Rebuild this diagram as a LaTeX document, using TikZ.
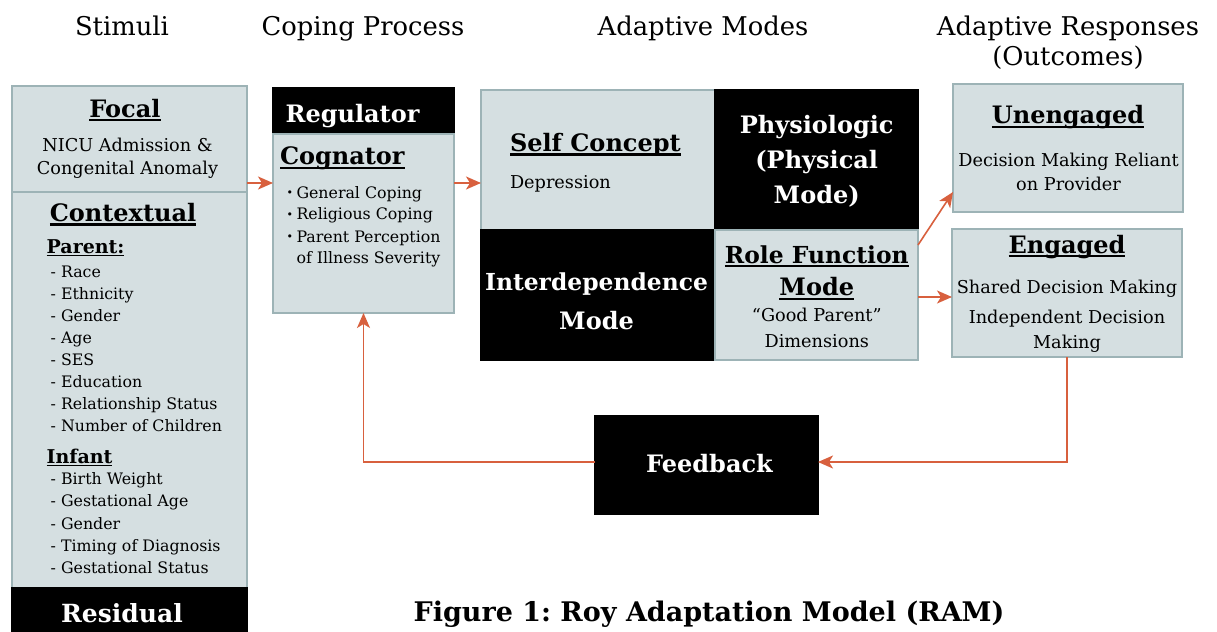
\documentclass[tikz,border=0pt]{standalone}
\usepackage{fontspec}
\setmainfont{DejaVu Serif}
\usetikzlibrary{arrows.meta}
\definecolor{boxfill}{HTML}{D5DFE1}
\definecolor{boxline}{HTML}{9DB3B6}
\definecolor{arrowc}{HTML}{D8603E}
\newcommand\ulx[1]{\setbox0=\hbox{#1}\rlap{\rule[-0.16em]{\wd0}{0.09em}}\box0}
\newcommand\fsz[1]{\fontsize{#1bp}{#1bp}\selectfont}
\frenchspacing
\begin{document}
\begin{tikzpicture}[x=1bp,y=-1bp,
 lbox/.style={draw=boxline,fill=boxfill,line width=1.2bp,inner sep=0pt,outer sep=0pt,anchor=north west},
 bbox/.style={draw=black,fill=black,line width=1.2bp,inner sep=0pt,outer sep=0pt,anchor=north west},
 lab/.style={inner sep=0pt,outer sep=0pt,anchor=base,text=black},
 hdr/.style={lab,font=\fsz{25.8}},
 ttl/.style={lab,font=\fsz{24}\bfseries},
 wttl/.style={ttl,text=white},
 body/.style={lab,font=\fsz{17.7}},
 bodyl/.style={body,anchor=base west},
 item/.style={lab,anchor=base west,font=\fsz{15.8}},
 sub/.style={lab,anchor=base west,font=\fsz{19}\bfseries},
 flow/.style={draw=arrowc,line width=1.6bp,-{Stealth[length=15bp,width=13bp,inset=4bp]}},
]
\useasboundingbox[fill=white] (0,0) rectangle (1217,632);
% boxes
\node[lbox,minimum width=235bp,minimum height=106bp] (focal) at (12,86) {};
\node[lbox,minimum width=235bp,minimum height=396bp] (context) at (12,192) {};
\node[bbox,minimum width=235bp,minimum height=50bp] (residual) at (12,588) {};
\node[bbox,minimum width=181bp,minimum height=46bp] (regulator) at (273,88) {};
\node[lbox,minimum width=181bp,minimum height=179bp] (cognator) at (273,134) {};
\node[lbox,minimum width=234bp,minimum height=140bp] (self) at (481,90) {};
\node[bbox,minimum width=203bp,minimum height=140bp] (phys) at (715,90) {};
\node[bbox,minimum width=234bp,minimum height=130bp] (inter) at (481,230) {};
\node[lbox,minimum width=203bp,minimum height=130bp] (role) at (715,230) {};
\node[lbox,minimum width=230bp,minimum height=128bp] (uneng) at (953,84) {};
\node[lbox,minimum width=230bp,minimum height=128bp] (eng) at (952,229) {};
\node[bbox,minimum width=223bp,minimum height=98bp] (feedback) at (595,416) {};
% headers
\node[hdr] (hstim) at (122,36) {Stimuli};
\node[hdr] (hcop) at (363,36) {Coping Process};
\node[hdr] (hmodes) at (703,36) {Adaptive Modes};
\node[hdr] (hresp) at (1068,36) {Adaptive Responses};
\node[hdr] (hout) at (1068,66) {(Outcomes)};
% stimuli
\node[ttl] (tfocal) at (125,117.3) {\ulx{Focal}};
\node[body] (tnicu) at (127.5,151.7) {NICU Admission \&};
\node[body] (tcong) at (127.5,174.3) {Congenital Anomaly};
\node[ttl] (tcontext) at (123,221.7) {\ulx{Contextual}};
\node[sub] (tparent) at (46.7,253.3) {\ulx{Parent:}};
\foreach \t [count=\i] in {Race,Ethnicity,Gender,Age,SES,Education,Relationship Status,Number of Children}
  \node[item] (par\i) at (50.7,{277.3+22*(\i-1)}) {- \t};
\node[sub] (tinfant) at (46.7,463.3) {\ulx{Infant}};
\foreach \t [count=\i] in {Birth Weight,Gestational Age,Gender,Timing of Diagnosis,Gestational Status}
  \node[item] (inf\i) at (50.7,{484.3+22.4*(\i-1)}) {- \t};
\node[wttl,font=\fsz{25}\bfseries] (tresid) at (122,622.7) {Residual};
% coping
\node[wttl] (treg) at (352.5,122.3) {Regulator};
\node[ttl,anchor=base west] (tcog) at (280,165) {\ulx{Cognator}};
\foreach \t/\b [count=\i] in {General Coping/198.3,Religious Coping/220,Parent Perception/242.3}{
  \node[item,font=\fsz{11}] (bul\i) at (286.5,{\b-1.5}) {\textbullet};
  \node[item] (cop\i) at (296.5,\b) {\t};
}
\node[item] (cop4) at (296.5,263.3) {of Illness Severity};
% modes
\node[ttl,anchor=base west] (tself) at (510,151.7) {\ulx{Self Concept}};
\node[bodyl] (tdep) at (510,188.3) {Depression};
\node[wttl] (tphys1) at (816.7,133.3) {Physiologic};
\node[wttl] (tphys2) at (816.7,168.3) {(Physical};
\node[wttl] (tphys3) at (816.7,203.3) {Mode)};
\node[wttl,font=\fsz{23.4}\bfseries] (tint1) at (596.5,291) {Interdependence};
\node[wttl] (tint2) at (596.5,329.3) {Mode};
\node[ttl,font=\fsz{23.4}\bfseries] (trole1) at (816.8,263.3) {\ulx{Role Function}};
\node[ttl] (trole2) at (816.8,296) {\ulx{Mode}};
\node[body] (trole3) at (816.8,321.7) {“Good Parent”};
\node[body] (trole4) at (816.8,347.7) {Dimensions};
% outcomes
\node[ttl] (tun) at (1068,124) {\ulx{Unengaged}};
\node[body] (tun1) at (1068.5,166.7) {Decision Making Reliant};
\node[body] (tun2) at (1068.5,190.7) {on Provider};
\node[ttl] (ten) at (1067,253.3) {\ulx{Engaged}};
\node[body] (ten1) at (1067,294) {Shared Decision Making};
\node[body] (ten2) at (1067,324) {Independent Decision};
\node[body] (ten3) at (1067,348.3) {Making};
% feedback
\node[wttl] (tfeed) at (709.5,472.7) {Feedback};
% title
\node[lab,font=\fsz{27}\bfseries] (title) at (709,621) {Figure 1: Roy Adaptation Model (RAM)};
% connectors
\coordinate (ya) at (0,183);
\coordinate (yb) at (0,192);
\coordinate (yc) at (0,297);
\coordinate (yf) at (0,462);
\coordinate (r1) at (918,245);
\draw[flow] (focal.east |- ya) -- (cognator.west |- ya);
\draw[flow] (cognator.east |- ya) -- (self.west |- ya);
\draw[flow] (r1) -- (uneng.west |- yb);
\draw[flow] (role.east |- yc) -- (eng.west |- yc);
\draw[flow] (eng.south) |- (feedback.east |- yf);
\draw[flow] (feedback.west |- yf) -| (cognator.south);
\end{tikzpicture}
\end{document}
